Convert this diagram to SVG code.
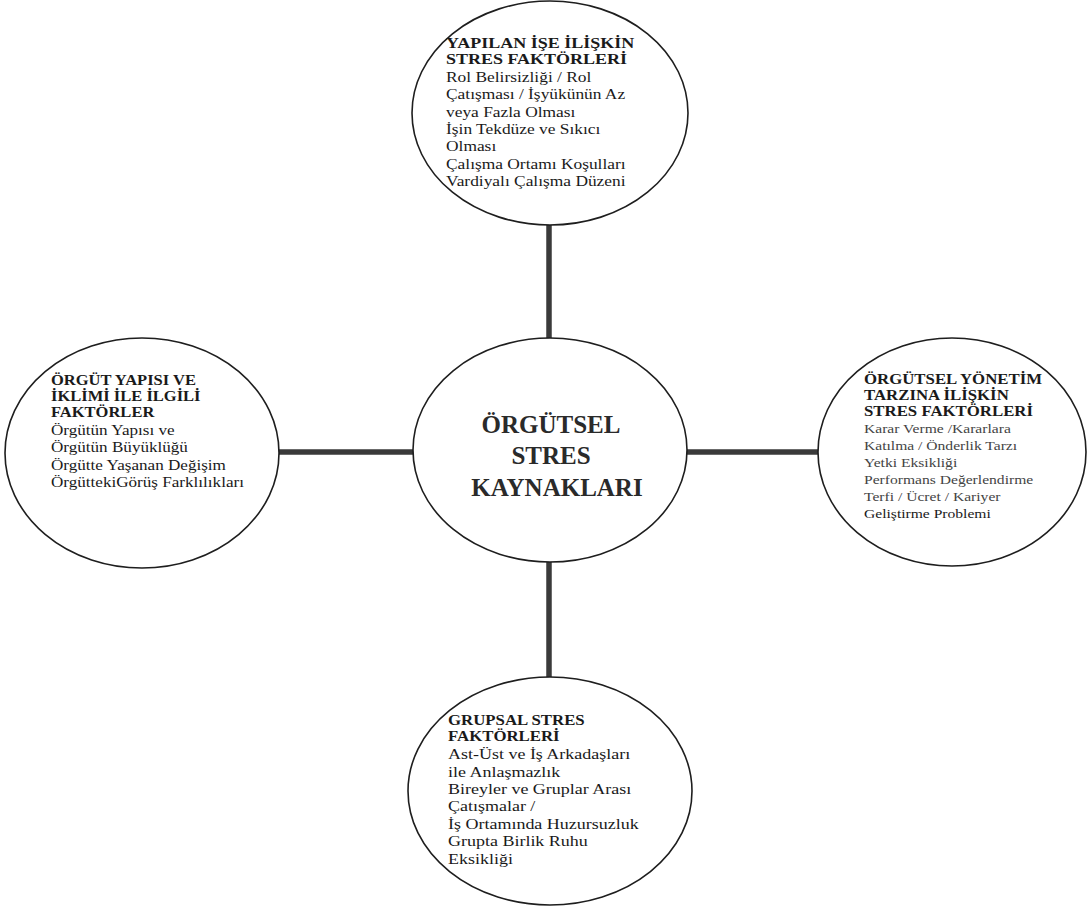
<svg xmlns="http://www.w3.org/2000/svg" width="1088" height="906" viewBox="0 0 1088 906">
<style>
.bg{fill:#ffffff}
.node ellipse{fill:#ffffff;stroke:#1e1e1e;stroke-width:1.6}
.conn line{stroke:#3a3a3a;stroke-width:5.5;stroke-linecap:butt}
text{font-family:'Liberation Serif','Times New Roman',serif;fill:#1a1a1a}
.h{font-weight:bold;font-size:15px}
.hs{font-weight:bold;font-size:14px}
.b{font-size:14.5px}
.bl{font-size:15px}
.bm{font-size:14.5px}
.br{font-size:13px;fill:#444444}
.c{font-weight:bold;font-size:25px;text-anchor:middle;fill:#2a2a2a}
</style>
<rect class="bg" x="0" y="0" width="1088" height="906"/>
<g id="connectors" class="conn">
<line x1="549" y1="224" x2="549" y2="339"/>
<line x1="549" y1="561" x2="549" y2="678"/>
<line x1="278" y1="452" x2="414" y2="452"/>
<line x1="686" y1="452" x2="819" y2="452"/>
</g>
<g id="node-center" class="node">
<ellipse cx="550" cy="450" rx="137" ry="112"/>
<text class="c" x="551" y="433">ÖRGÜTSEL</text>
<text class="c" x="551" y="464">STRES</text>
<text class="c" x="557" y="496">KAYNAKLARI</text>
</g>
<g id="node-top" class="node">
<ellipse cx="550" cy="113" rx="138" ry="112"/>
<g transform="translate(446,0) scale(1.2,1)">
<text class="h" x="0" y="48">YAPILAN İŞE İLİŞKİN</text>
<text class="h" x="0" y="64">STRES FAKTÖRLERİ</text>
<text class="b" x="0" y="82">Rol Belirsizliği / Rol</text>
<text class="b" x="0" y="99.5">Çatışması / İşyükünün Az</text>
<text class="b" x="0" y="117">veya Fazla Olması</text>
<text class="b" x="0" y="134">İşin Tekdüze ve Sıkıcı</text>
<text class="b" x="0" y="151.5">Olması</text>
<text class="b" x="0" y="169">Çalışma Ortamı Koşulları</text>
<text class="b" x="0" y="186">Vardiyalı Çalışma Düzeni</text>
</g>
</g>
<g id="node-left" class="node">
<ellipse cx="142" cy="453" rx="137" ry="115"/>
<g transform="translate(51,0) scale(1.18,1)">
<text class="hs" x="0" y="385">ÖRGÜT YAPISI VE</text>
<text class="hs" x="0" y="401">İKLİMİ İLE İLGİLİ</text>
<text class="hs" x="0" y="417">FAKTÖRLER</text>
<text class="bm" x="0" y="435">Örgütün Yapısı ve</text>
<text class="bm" x="0" y="452">Örgütün Büyüklüğü</text>
<text class="bm" x="0" y="470">Örgütte Yaşanan Değişim</text>
<text class="bm" x="0" y="487">ÖrgüttekiGörüş Farklılıkları</text>
</g>
</g>
<g id="node-right" class="node">
<ellipse cx="952" cy="452" rx="134" ry="114"/>
<g transform="translate(864,0) scale(1.2,1)">
<text class="hs" x="0" y="384">ÖRGÜTSEL YÖNETİM</text>
<text class="hs" x="0" y="400">TARZINA İLİŞKİN</text>
<text class="hs" x="0" y="416">STRES FAKTÖRLERİ</text>
<text class="br" x="0" y="433">Karar Verme /Kararlara</text>
<text class="br" x="0" y="450">Katılma / Önderlik Tarzı</text>
<text class="br" x="0" y="467">Yetki Eksikliği</text>
<text class="br" x="0" y="484">Performans Değerlendirme</text>
<text class="br" x="0" y="501">Terfi / Ücret / Kariyer</text>
<text class="br" x="0" y="518" style="fill:#1a1a1a">Geliştirme  Problemi</text>
</g>
</g>
<g id="node-bottom" class="node">
<ellipse cx="550" cy="791" rx="142" ry="114"/>
<g transform="translate(448,0) scale(1.2,1)">
<text class="hs" x="0" y="725">GRUPSAL STRES</text>
<text class="hs" x="0" y="741">FAKTÖRLERİ</text>
<text class="bl" x="0" y="759">Ast-Üst ve İş Arkadaşları</text>
<text class="bl" x="0" y="777">ile Anlaşmazlık</text>
<text class="bl" x="0" y="794">Bireyler ve Gruplar Arası</text>
<text class="bl" x="0" y="811">Çatışmalar /</text>
<text class="bl" x="0" y="829">İş Ortamında  Huzursuzluk</text>
<text class="bl" x="0" y="846">Grupta Birlik Ruhu</text>
<text class="bl" x="0" y="864">Eksikliği</text>
</g>
</g>
</svg>
